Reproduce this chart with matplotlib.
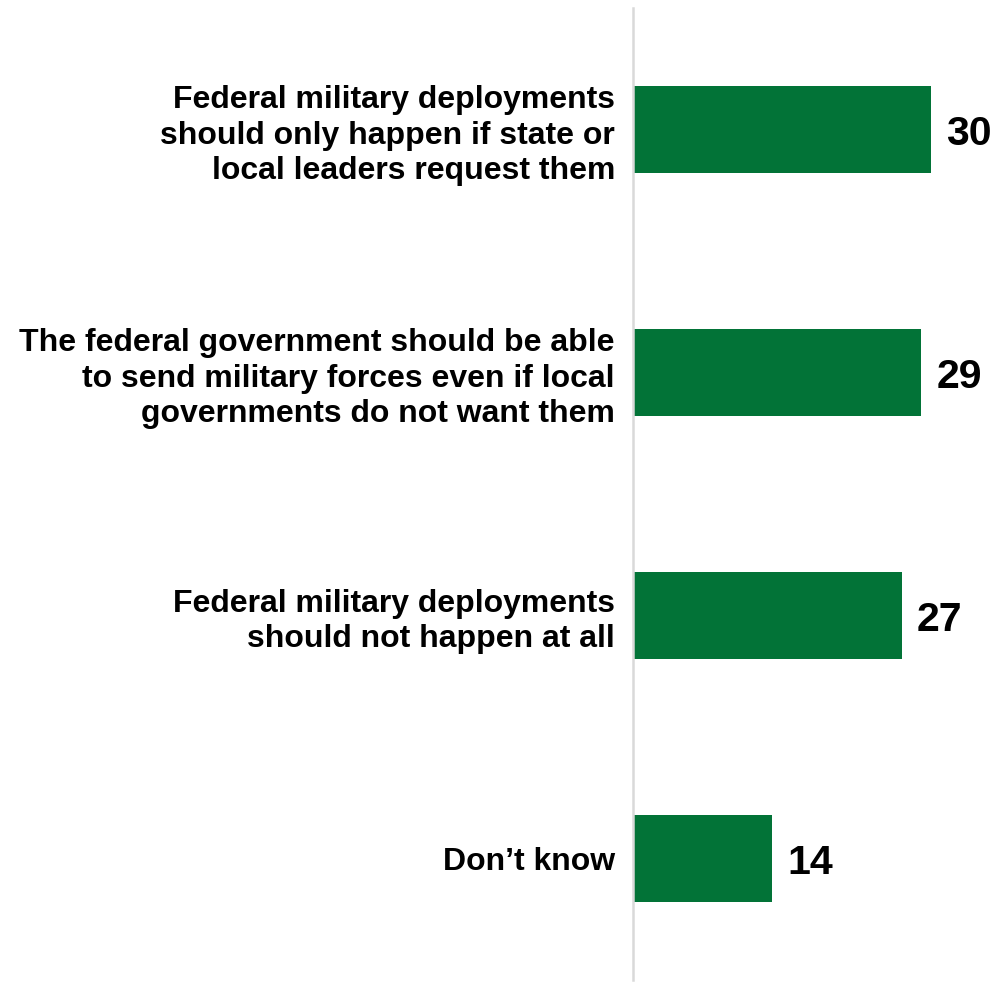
import matplotlib.pyplot as plt

labels = [
    "Federal military deployments\nshould only happen if state or\nlocal leaders request them",
    "The federal government should be able\nto send military forces even if local\ngovernments do not want them",
    "Federal military deployments\nshould not happen at all",
    "Don\u2019t know",
]
values = [30, 29, 27, 14]

plt.rcParams['font.family'] = ['Liberation Sans', 'DejaVu Sans']

fig = plt.figure(figsize=(9.97, 9.82), dpi=100)
ax = fig.add_axes([633 / 997, 2 / 982, 364 / 997, 972 / 982])

pos = list(range(len(values)))
bars = ax.barh(pos, values, height=0.355, color='#027337')
ax.set_xlim(0, 36.6)
ax.set_ylim(len(values) - 0.5, -0.5)

for y, v in zip(pos, values):
    ax.text(v + 1.5, y + 0.02, str(v), va='center', ha='left',
            fontsize=29.5, fontweight='bold')

ax.set_yticks(pos)
ax.set_yticklabels(labels, fontsize=23, fontweight='bold', linespacing=1.22,
                   ha='right')
ax.tick_params(axis='y', length=0, pad=13)
ax.set_xticks([])

for s in ['top', 'right', 'bottom']:
    ax.spines[s].set_visible(False)
ax.spines['left'].set_color('#d9d9d9')
ax.spines['left'].set_linewidth(1.8)

fig.savefig('out.png', dpi=100)
